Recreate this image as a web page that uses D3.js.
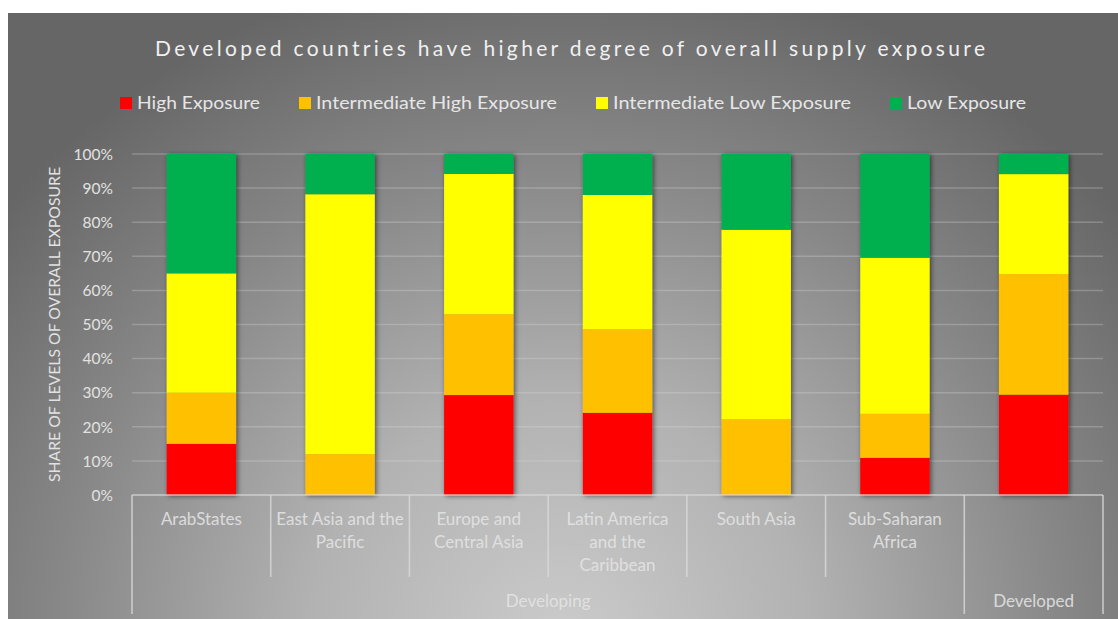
<!DOCTYPE html>
<html>
<head>
<meta charset="utf-8">
<script src="https://cdn.jsdelivr.net/npm/d3@7"></script>
<style>
  html, body { margin: 0; padding: 0; background: #ffffff; }
  svg { display: block; }
  text { font-family: Lato, "Open Sans", "Liberation Sans", sans-serif; }
</style>
</head>
<body>
<svg id="chart" width="1118" height="619"></svg>
<script>
// ---- data ----
const categories = ["ArabStates", "East Asia and the Pacific", "Europe and Central Asia",
  "Latin America and the Caribbean", "South Asia", "Sub-Saharan Africa", ""];
const categoryLines = [["ArabStates"], ["East Asia and the", "Pacific"], ["Europe and", "Central Asia"],
  ["Latin America", "and the", "Caribbean"], ["South Asia"], ["Sub-Saharan", "Africa"], []];
const groups = ["Developing", "Developing", "Developing", "Developing", "Developing", "Developing", "Developed"];
const seriesNames = ["High Exposure", "Intermediate High Exposure", "Intermediate Low Exposure", "Low Exposure"];
const highExposure = [0.150, 0.000, 0.293, 0.241, 0.000, 0.109, 0.294];
const intermediateHigh = [0.150, 0.120, 0.237, 0.245, 0.222, 0.129, 0.354];
const intermediateLow = [0.350, 0.762, 0.412, 0.394, 0.556, 0.458, 0.293];
const lowExposure = [0.350, 0.118, 0.058, 0.120, 0.222, 0.304, 0.059];
const yTicks = [0, 0.1, 0.2, 0.3, 0.4, 0.5, 0.6, 0.7, 0.8, 0.9, 1.0];
const colors = ["#ff0000", "#ffc000", "#ffff00", "#00b050"];
const titleText = "Developed countries have higher degree of overall supply exposure";
const yTitleText = "SHARE OF LEVELS OF OVERALL EXPOSURE";

// ---- layout ----
const svg = d3.select("#chart");
const W = 1118, H = 619;
const plot = { left: 132, right: 1103, top: 154, bottom: 495 };

const defs = svg.append("defs");
const rg = defs.append("radialGradient").attr("id", "bg")
  .attr("gradientUnits", "userSpaceOnUse")
  .attr("cx", 560).attr("cy", 640).attr("r", 720)
  .attr("gradientTransform", "translate(560,640) scale(1,0.95) translate(-560,-640)");
rg.append("stop").attr("offset", "0%").attr("stop-color", "#cbcbcb");
rg.append("stop").attr("offset", "35%").attr("stop-color", "#b2b2b2");
rg.append("stop").attr("offset", "70%").attr("stop-color", "#878787");
rg.append("stop").attr("offset", "100%").attr("stop-color", "#666666");

const f = defs.append("filter").attr("id", "shadow")
  .attr("x", "-30%").attr("y", "-10%").attr("width", "160%").attr("height", "120%");
f.append("feDropShadow").attr("dx", 1.5).attr("dy", 1).attr("stdDeviation", 2.5)
  .attr("flood-color", "#000").attr("flood-opacity", 0.55);

svg.append("rect").attr("x", 8).attr("y", 13).attr("width", W - 8).attr("height", H - 13)
  .attr("fill", "url(#bg)");

const x = d3.scaleBand().domain(d3.range(categories.length))
  .range([plot.left, plot.right]).paddingInner(0.5).paddingOuter(0.25);
const y = d3.scaleLinear().domain([0, 1]).range([plot.bottom, plot.top]);

// grid
svg.append("g").selectAll("line").data(yTicks.slice(1)).join("line")
  .attr("x1", plot.left).attr("x2", plot.right)
  .attr("y1", d => y(d)).attr("y2", d => y(d))
  .attr("stroke", "#e0e0e0").attr("stroke-opacity", 0.28).attr("stroke-width", 1.5);

// y axis labels
const yAxis = d3.axisLeft(y).tickValues(yTicks).tickFormat(d3.format(".0%")).tickSize(0).tickPadding(0);
const yg = svg.append("g").attr("transform", `translate(113,0)`).call(yAxis);
yg.select(".domain").remove();
yg.selectAll("text").attr("fill", "#e2e2e2").style("font-size", "15.5px")
  .style("font-family", "Lato, sans-serif").attr("dy", "0.34em");

// stacked bars
const rows = categories.map((c, i) => ({ i, high: highExposure[i], ih: intermediateHigh[i], il: intermediateLow[i], low: lowExposure[i] }));
const keys = ["high", "ih", "il", "low"];
const stack = d3.stack().keys(keys)(rows);

const barG = svg.append("g");
const cats = barG.selectAll("g.cat").data(rows).join("g").attr("class", "cat")
  .attr("filter", "url(#shadow)");
cats.each(function (r) {
  const g = d3.select(this);
  stack.forEach((layer, k) => {
    const d = layer[r.i];
    if (d[1] - d[0] <= 0) return;
    g.append("rect")
      .attr("x", x(r.i)).attr("width", x.bandwidth())
      .attr("y", y(d[1])).attr("height", y(d[0]) - y(d[1]))
      .attr("fill", colors[k]);
  });
});

// category axis
const axG = svg.append("g").attr("stroke", "#d9d9d9").attr("stroke-width", 1.6).attr("stroke-opacity", 0.8);
axG.append("line").attr("x1", plot.left).attr("x2", plot.right).attr("y1", plot.bottom).attr("y2", plot.bottom);
const step = x.step();
const boundaries = d3.range(categories.length + 1).map(i => plot.left + i * step);
boundaries.forEach((bx, i) => {
  const isGroupEdge = i === 0 || i === categories.length || groups[i] !== groups[i - 1];
  axG.append("line").attr("x1", bx).attr("x2", bx).attr("y1", plot.bottom)
    .attr("y2", isGroupEdge ? 614 : 577);
});

// category labels
const labG = svg.append("g");
categoryLines.forEach((lines, i) => {
  const cx = x(i) + x.bandwidth() / 2;
  lines.forEach((ln, j) => {
    labG.append("text").attr("x", cx).attr("y", 525 + j * 23)
      .attr("text-anchor", "middle").attr("fill", "#e4e4e4").attr("fill-opacity", 0.9)
      .style("font-size", "17px").text(ln);
  });
});

// group labels
const groupNames = Array.from(new Set(groups));
groupNames.forEach(gn => {
  const idx = groups.map((g, i) => g === gn ? i : -1).filter(i => i >= 0);
  const x0 = plot.left + idx[0] * step, x1 = plot.left + (idx[idx.length - 1] + 1) * step;
  svg.append("text").attr("x", (x0 + x1) / 2).attr("y", 607)
    .attr("text-anchor", "middle").attr("fill", "#e4e4e4").attr("fill-opacity", 0.9)
    .style("font-size", "17px").text(gn);
});

// y axis title
svg.append("text").attr("transform", "translate(60,324.5) rotate(-90)")
  .attr("text-anchor", "middle").attr("fill", "#e2e2e2")
  .style("font-size", "14.5px").attr("textLength", 315).attr("lengthAdjust", "spacingAndGlyphs")
  .text(yTitleText);

// title
svg.append("text").attr("x", 155).attr("y", 56)
  .attr("fill", "#f0f0f0").style("font-size", "21px")
  .attr("textLength", 830).attr("lengthAdjust", "spacing")
  .text(titleText);

// legend
const legG = svg.append("g");
let lx = 120;
const legTargets = [123, 241, 238, 119];
seriesNames.forEach((name, k) => {
  legG.append("rect").attr("x", lx).attr("y", 97).attr("width", 12).attr("height", 12).attr("fill", colors[k]);
  legG.append("text").attr("x", lx + 17).attr("y", 109)
    .attr("fill", "#e6e6e6").style("font-size", "17.5px")
    .attr("textLength", legTargets[k]).attr("lengthAdjust", "spacingAndGlyphs").text(name);
  lx += 17 + legTargets[k] + 39;
});
</script>
</body>
</html>
